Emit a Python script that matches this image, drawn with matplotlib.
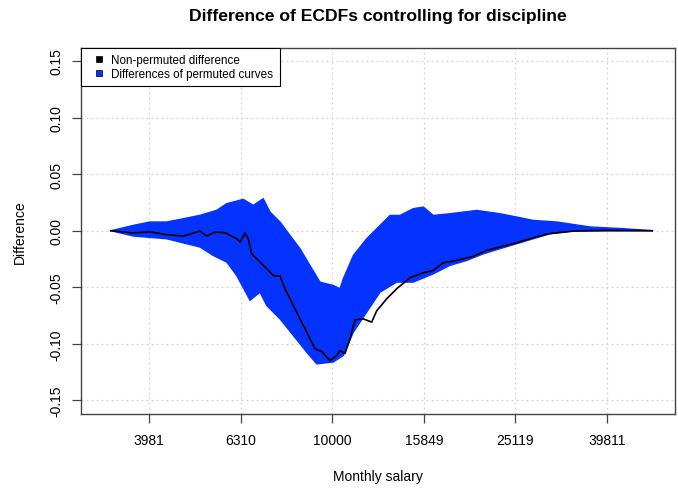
import numpy as np
import matplotlib
matplotlib.use("Agg")
import matplotlib.pyplot as plt
from matplotlib.lines import Line2D
from matplotlib.ticker import FixedLocator, FixedFormatter, NullLocator

plt.rcParams["font.family"] = ["Liberation Sans", "DejaVu Sans"]

# ── data ─────────────────────────────────────────────────────────────────────
# non-permuted difference (black curve)
obs_salary = [3289, 3679, 4002, 4350, 4731, 5145, 5321, 5549, 5834, 6187,
              6291, 6451, 6558, 6671, 6957, 7194, 7436, 7691, 7887, 8158,
              8505, 8796, 9170, 9485, 9889, 10228, 10399, 10664, 10935, 11213,
              11691, 12194, 12507, 13152, 13829, 14786, 15809, 16624, 17482,
              18701, 20330, 21743, 23250, 25277, 27485, 29638, 33611, 39757,
              49990]
obs_diff = [0.000, -0.002, -0.001, -0.0035, -0.0047, -0.0003, -0.0047, -0.0012,
            -0.0018, -0.0071, -0.010, -0.002, -0.007, -0.0204, -0.0277, -0.0336,
            -0.0396, -0.040, -0.0513, -0.0631, -0.0779, -0.0896, -0.1044,
            -0.1066, -0.1148, -0.1104, -0.1059, -0.1085, -0.0956, -0.0788,
            -0.0779, -0.0808, -0.0708, -0.0602, -0.0513, -0.0416, -0.0372,
            -0.0351, -0.0283, -0.0263, -0.0226, -0.0174, -0.0144, -0.0106,
            -0.0062, -0.0027, -0.0003, 0.0003, 0.000]

# envelope of the permuted curves (upper and lower edge of the blue band)
upper_salary = [3289, 3679, 4002, 4350, 4731, 5145, 5595, 5885, 6395, 6726,
                7071, 7313, 7691, 8088, 8505, 8945, 9406, 10056, 10399, 10574,
                11124, 11893, 12720, 13374, 14064, 15034, 15809, 16624, 18077,
                20680, 23250, 25277, 27485, 30923, 36557, 43218, 49990]
upper_diff = [0.000, 0.0047, 0.0077, 0.0077, 0.0106, 0.0136, 0.018, 0.0239,
              0.0277, 0.0224, 0.0283, 0.0165, 0.0077, -0.0042, -0.0159, -0.0308,
              -0.0455, -0.0484, -0.0513, -0.0425, -0.0219, -0.0071, 0.0047,
              0.0135, 0.0135, 0.0195, 0.0209, 0.0135, 0.0150, 0.0179, 0.0150,
              0.0121, 0.0091, 0.0077, 0.0033, 0.0018, 0.000]

lower_salary = [3289, 3679, 4350, 5145, 5501, 5885, 6187, 6616, 6957, 7194,
                7691, 8226, 8796, 9252, 10056, 10574, 11124, 11893, 12720,
                13829, 15034, 16624, 18077, 19663, 21380, 23250, 25277, 27485,
                29893, 33611, 49990]
lower_diff = [0.000, -0.0047, -0.0071, -0.0144, -0.0219, -0.0277, -0.0396,
              -0.0615, -0.0543, -0.0661, -0.0779, -0.0926, -0.1073, -0.1177,
              -0.1160, -0.1103, -0.0896, -0.0720, -0.0543, -0.0454, -0.0454,
              -0.0381, -0.0306, -0.0263, -0.0204, -0.0159, -0.0115, -0.0071,
              -0.0027, -0.0003, 0.000]

x_ticks = [3981, 6310, 10000, 15849, 25119, 39811]
x_tick_labels = ["3981", "6310", "10000", "15849", "25119", "39811"]
y_ticks = [-0.15, -0.10, -0.05, 0.00, 0.05, 0.10, 0.15]
y_tick_labels = ["-0.15", "-0.10", "-0.05", "0.00", "0.05", "0.10", "0.15"]

BLUE = "#0433FF"

# ── plot ─────────────────────────────────────────────────────────────────────
fig = plt.figure(figsize=(6.78, 4.89), dpi=100)
ax = fig.add_axes([81 / 678, 1 - 415 / 489, 594 / 678, 366 / 489])

ax.set_xscale("log")
ax.set_xlim(10 ** 3.4515, 10 ** 4.7485)
ax.set_ylim(-0.162, 0.1615)

# dotted grid under the curves
for xt in x_ticks:
    ax.axvline(xt, color="#d3d3d3", lw=0.9, ls=(0, (1.5, 2.5)), zorder=0)
for yt in y_ticks:
    ax.axhline(yt, color="#d3d3d3", lw=0.9, ls=(0, (1.5, 2.5)), zorder=0)

band_x = np.r_[upper_salary, lower_salary[::-1]]
band_y = np.r_[upper_diff, lower_diff[::-1]]
ax.fill(band_x, band_y, color=BLUE, lw=0, zorder=2)
ax.plot(upper_salary, upper_diff, color=BLUE, lw=1, zorder=2)
ax.plot(lower_salary, lower_diff, color=BLUE, lw=1, zorder=2)

ax.plot(obs_salary, obs_diff, color="black", lw=1.2, zorder=3)

ax.xaxis.set_major_locator(FixedLocator(x_ticks))
ax.xaxis.set_major_formatter(FixedFormatter(x_tick_labels))
ax.xaxis.set_minor_locator(NullLocator())
ax.yaxis.set_major_locator(FixedLocator(y_ticks))
ax.yaxis.set_major_formatter(FixedFormatter(y_tick_labels))
ax.tick_params(axis="both", direction="out", length=6.5, width=0.9,
               color="#444444", labelsize=10, labelcolor="black")
ax.tick_params(axis="x", pad=7)
ax.tick_params(axis="y", pad=6)
for lab in ax.get_yticklabels():
    lab.set_rotation(90)
    lab.set_va("center")

for spine in ax.spines.values():
    spine.set_edgecolor("#444444")
    spine.set_linewidth(1)

handles = [Line2D([], [], ls="none", marker="s", ms=5, mfc="black",
                  mec="black", mew=0.5),
           Line2D([], [], ls="none", marker="s", ms=5, mfc=BLUE,
                  mec="black", mew=0.5)]
leg = ax.legend(handles, ["Non-permuted difference",
                          "Differences of permuted curves"],
                loc="upper left", bbox_to_anchor=(0, 1), borderaxespad=0,
                fontsize=8.4, frameon=True, fancybox=False, framealpha=1,
                edgecolor="black", handlelength=2.0, handletextpad=0.05,
                labelspacing=0.12, borderpad=0.55)
leg.get_frame().set_linewidth(0.8)
leg.set_zorder(5)

fig.text(378 / 678, 1 - 21 / 489,
         "Difference of ECDFs controlling for discipline",
         ha="center", va="baseline", fontsize=12.6, fontweight="bold")
fig.text(378 / 678, 1 - 477 / 489, "Monthly salary",
         ha="center", va="center", fontsize=10)
fig.text(20 / 678, 1 - 232 / 489, "Difference", rotation=90,
         ha="center", va="center", fontsize=10)

plt.savefig("out.png", dpi=100)
plt.close()
